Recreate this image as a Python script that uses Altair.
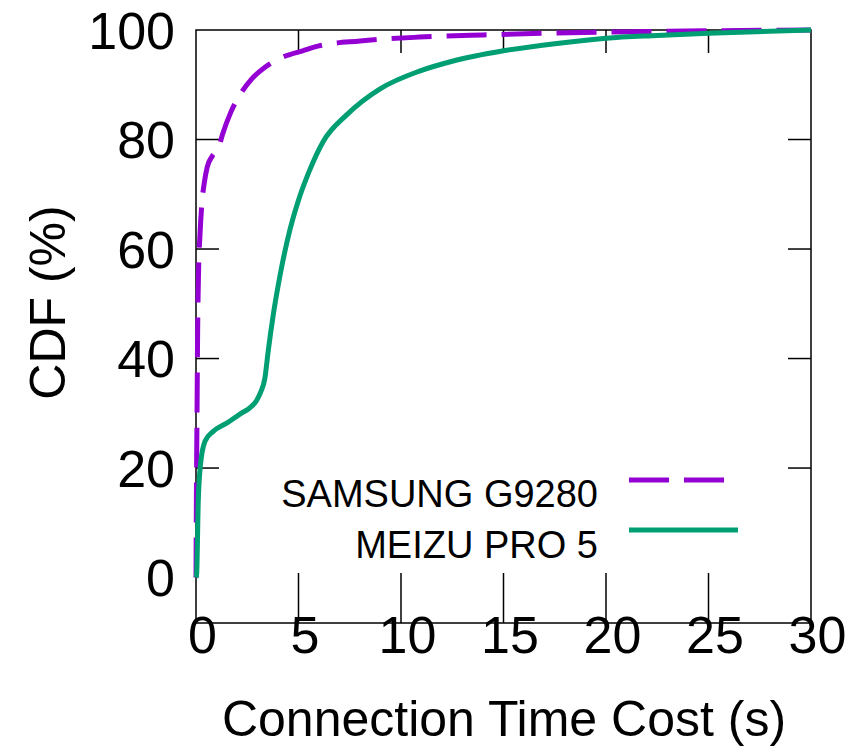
import altair as alt
import pandas as pd

FONT = "Liberation Sans"

# CDF of connection time cost for two phones
series_names = ["SAMSUNG  G9280", "MEIZU  PRO 5"]
series_colors = ["#9400D3", "#009E73"]

samsung_t = [0, 0.02, 0.05, 0.08, 0.12, 0.2, 0.28, 0.4, 0.55, 0.8, 1.1, 1.3, 1.7,
             2.2, 2.7, 3.4, 4.2, 5.2, 6.0, 8.0, 10.9, 14, 17, 20, 25, 30]
samsung_cdf = [0, 15, 30, 45, 55, 63, 68, 72, 75, 77, 78.5, 81, 85,
               88.5, 91, 93.3, 95, 96.2, 97.1, 98, 98.7, 99.1, 99.4, 99.6, 99.85, 100]

meizu_t = [0, 0.03, 0.11, 0.23, 0.44, 0.84, 1.5, 2.2, 2.63, 2.95, 3.15, 3.36, 3.52,
           3.77, 4.09, 4.58, 4.98, 5.5, 6.2, 7.35, 9.0, 10.9, 12.5, 15, 17.5, 20,
           22.5, 25, 30]
meizu_cdf = [0, 0.5, 13.9, 21, 24.9, 26.7, 28.2, 30, 31, 32.3, 33.8, 36.4, 41.3,
             48, 55, 63.5, 68.7, 74, 79.6, 84.5, 89.3, 92.5, 94.3, 96.2, 97.5, 98.5,
             99, 99.4, 100]

x_label_values = [0, 5, 10, 15, 20, 25, 30]
y_label_values = [0, 20, 40, 60, 80, 100]
x_tick_marks = [5, 10, 15, 20, 25]
y_tick_marks = [20, 40, 60, 80]

W, H = 615, 593

x_scale = alt.Scale(domain=[0, 30], nice=False, zero=False)
y_scale = alt.Scale(domain=[-8.3, 100], nice=False, zero=False)

x_axis = alt.Axis(
    values=x_label_values, format="d", domain=False, ticks=False, tickSize=0, grid=False,
    labelFont=FONT, labelFontSize=52, labelColor="black", labelPadding=29,
    labelBaseline="alphabetic", labelOffset=6, labelFlush=False, labelOverlap=False,
    title="Connection Time Cost (s)", titleFont=FONT, titleFontSize=50,
    titleFontWeight="normal", titleColor="black", titleBaseline="alphabetic", titleY=112,
)
y_axis = alt.Axis(
    values=y_label_values, format="d", domain=False, ticks=False, tickSize=0, grid=False,
    labelFont=FONT, labelFontSize=52, labelColor="black", labelPadding=21.5,
    labelBaseline="alphabetic", labelOffset=18, labelFlush=False, labelOverlap=False,
    title="CDF (%)", titleFont=FONT, titleFontSize=50, titleFontWeight="normal",
    titleColor="black", titleAngle=270, titleBaseline="alphabetic", titleAlign="center",
    titleX=-131.5, titleY=272,
)

X = alt.X("t:Q", scale=x_scale, axis=x_axis)
Y = alt.Y("cdf:Q", scale=y_scale, axis=y_axis)

samsung_df = pd.DataFrame({"t": samsung_t, "cdf": samsung_cdf})
meizu_df = pd.DataFrame({"t": meizu_t, "cdf": meizu_cdf})

samsung_line = alt.Chart(samsung_df).mark_line(
    color=series_colors[0], strokeWidth=5, strokeDash=[40, 15], interpolate="monotone"
).encode(x=X, y=Y)
meizu_line = alt.Chart(meizu_df).mark_line(
    color=series_colors[1], strokeWidth=5, interpolate="monotone"
).encode(x=X, y=Y)

# Inward tick marks on all four sides
xt = alt.Chart(pd.DataFrame({"t": x_tick_marks}))
yt = alt.Chart(pd.DataFrame({"cdf": y_tick_marks}))
tick_style = dict(color="black", strokeWidth=1.5)
bottom_ticks = xt.mark_rule(**tick_style).encode(x=X, y=alt.value(H - 50), y2=alt.value(H))
top_ticks = xt.mark_rule(**tick_style).encode(x=X, y=alt.value(0), y2=alt.value(23))
left_ticks = yt.mark_rule(**tick_style).encode(y=Y, x=alt.value(0), x2=alt.value(23))
right_ticks = yt.mark_rule(**tick_style).encode(y=Y, x=alt.value(W - 23), x2=alt.value(W))

# Key inside the plot, lower right
key_s = alt.Chart(pd.DataFrame({"series": [series_names[0]]}))
key_m = alt.Chart(pd.DataFrame({"series": [series_names[1]]}))
text_style = dict(align="right", baseline="alphabetic", font=FONT, fontSize=38, color="black")
key_s_text = key_s.mark_text(**text_style).encode(x=alt.value(402), y=alt.value(477), text="series:N")
key_m_text = key_m.mark_text(**text_style).encode(x=alt.value(402), y=alt.value(528), text="series:N")
key_s_line = key_s.mark_rule(color=series_colors[0], strokeWidth=5, strokeDash=[40, 15]).encode(
    x=alt.value(433), x2=alt.value(542), y=alt.value(450))
key_m_line = key_m.mark_rule(color=series_colors[1], strokeWidth=5).encode(
    x=alt.value(433), x2=alt.value(542), y=alt.value(500))

chart = alt.layer(
    bottom_ticks, top_ticks, left_ticks, right_ticks,
    key_s_text, key_m_text, key_s_line, key_m_line,
    samsung_line, meizu_line,
).properties(
    width=W, height=H,
    background="white",
    autosize=alt.AutoSizeParams(type="none"),
    padding={"left": 196, "top": 30, "right": 56, "bottom": 125},
).configure_view(
    stroke="black", strokeWidth=1.5
)

chart.save("out.html", embed_options={"renderer": "svg", "actions": False})
